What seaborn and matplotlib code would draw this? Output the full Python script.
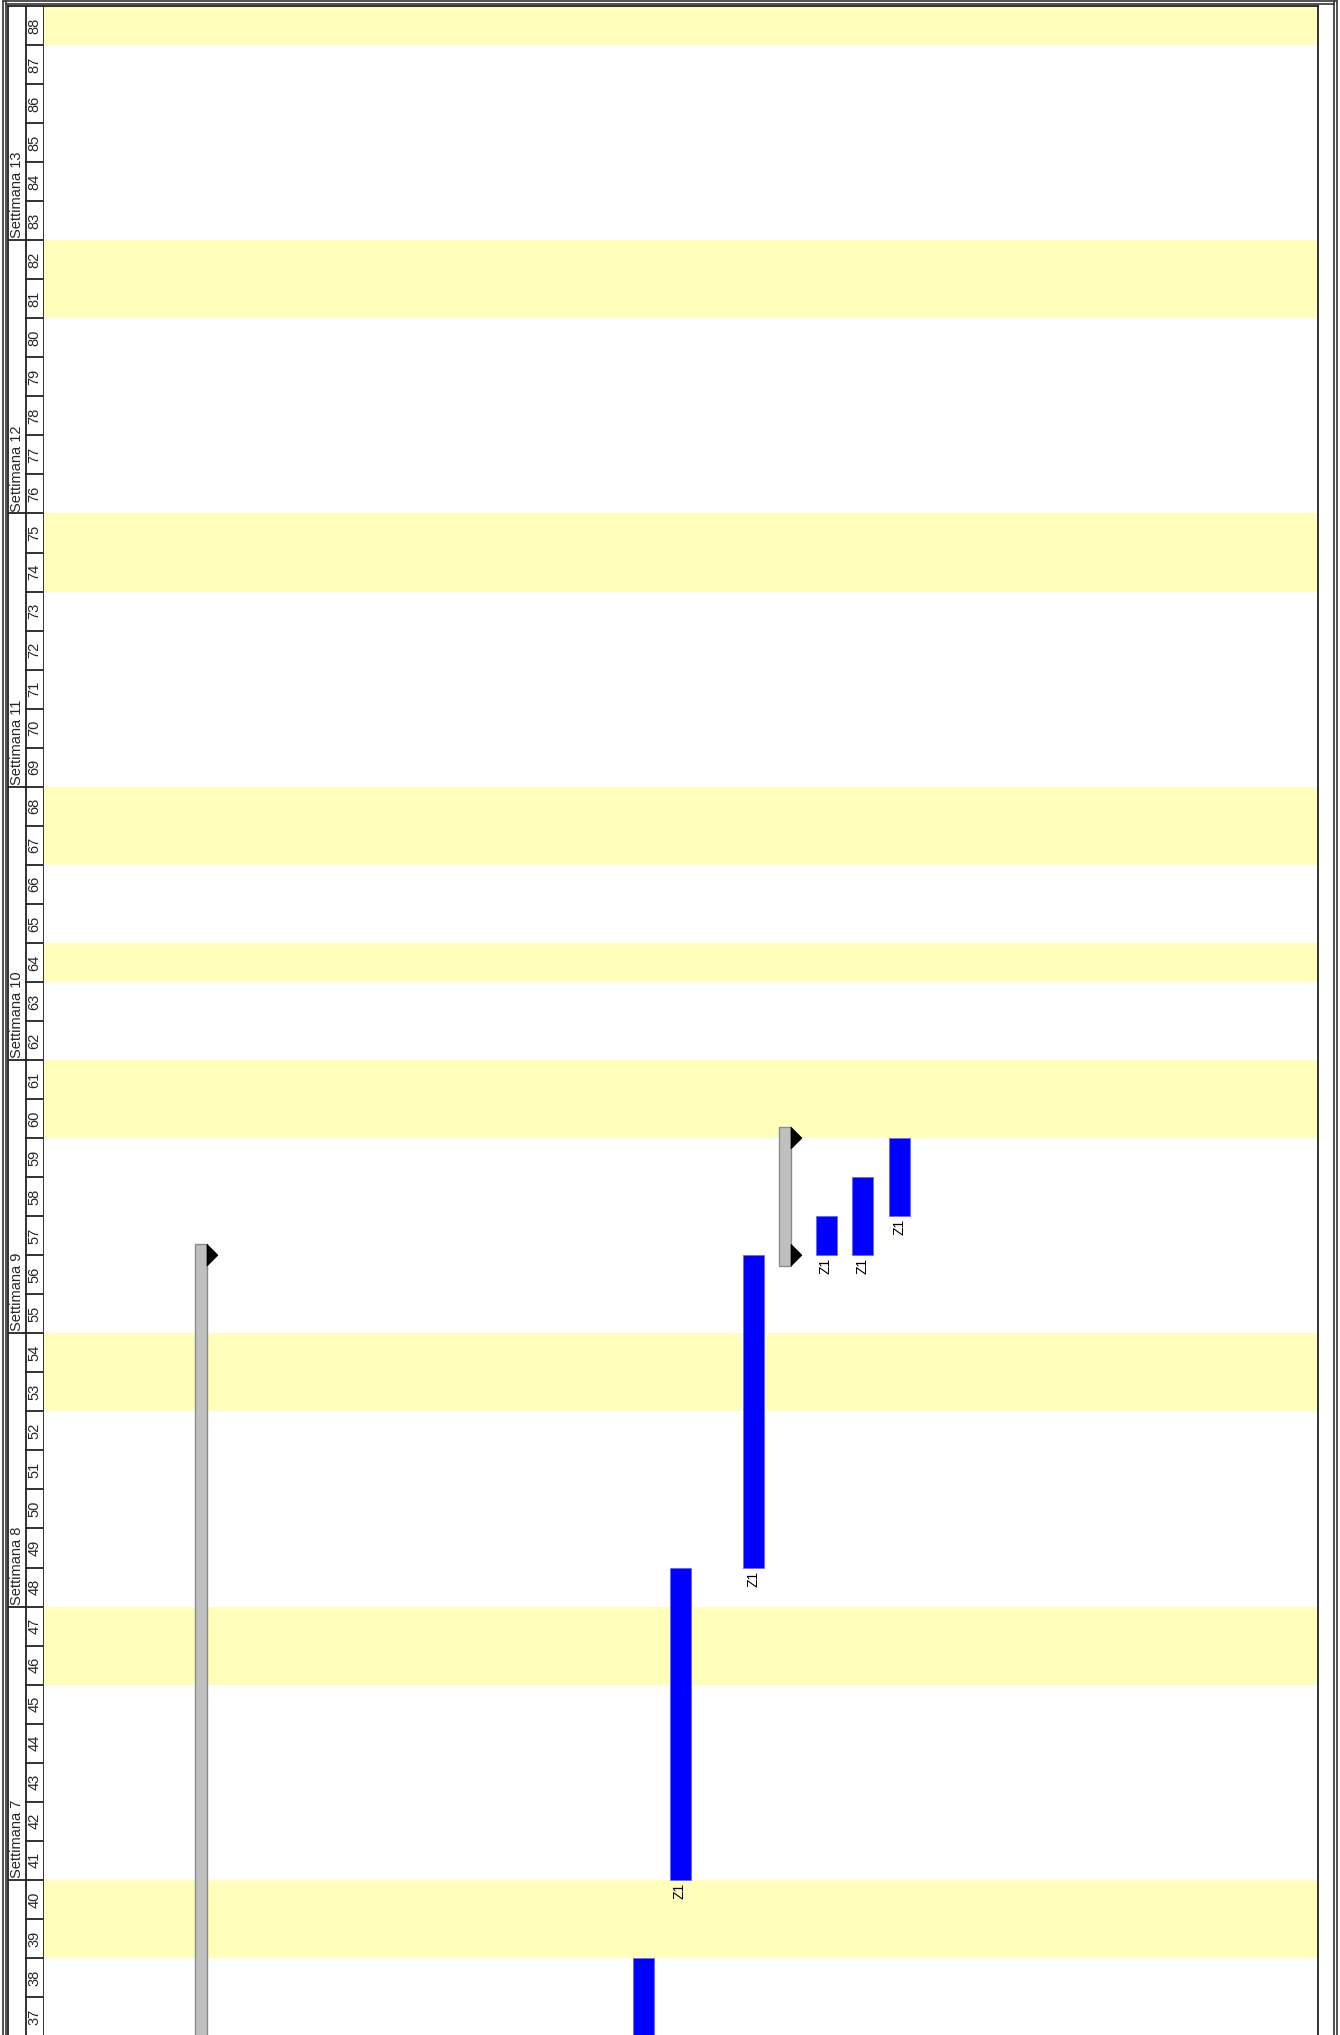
import numpy as np
import pandas as pd
import seaborn as sns
import matplotlib.pyplot as plt
from matplotlib.patches import Polygon, Rectangle
from matplotlib.lines import Line2D

# ---- data -------------------------------------------------------------
days = list(range(37, 89))
holidays = [39, 40, 46, 47, 53, 54, 60, 61, 64, 67, 68, 74, 75, 81, 82, 88]
week_numbers = [7, 8, 9, 10, 11, 12, 13]
week_starts = [41, 48, 55, 62, 69, 76, 83]

task_rows = [0, 12, 13, 15, 16, 17, 18, 19]
task_kinds = ["summary", "task", "task", "task", "summary", "task", "task", "task"]
task_starts = [30, 33, 41, 49, 57, 57, 57, 58]
task_ends = [57, 39, 49, 57, 60, 58, 59, 60]
task_labels = ["", "", "Z1", "Z1", "", "Z1", "Z1", "Z1"]

tasks = pd.DataFrame({"row": task_rows, "kind": task_kinds, "start": task_starts,
                      "end": task_ends, "label": task_labels})

# ---- style ------------------------------------------------------------
sns.set_theme(style="white")
plt.rcParams["font.family"] = ["Liberation Sans", "DejaVu Sans"]

W, H = 1340, 2035
fig = plt.figure(figsize=(W / 100, H / 100), dpi=100)
fig.patch.set_facecolor("white")


def fx(px):
    return px / W


def fy(py):
    return 1 - py / H


y_top, y_bot = 6, 2036
t0, t1 = 37, 89

ax = fig.add_axes([fx(43), fy(y_bot), fx(1318) - fx(43), fy(y_top) - fy(y_bot)])
hx = fig.add_axes([fx(8), fy(y_bot), fx(43) - fx(8), fy(y_top) - fy(y_bot)])

row_w = 36.5
ax.set_xlim((43 - 195) / row_w, (1318 - 195) / row_w)
ax.set_ylim(t0, t1)

# weekend / holiday bands
for d in holidays:
    ax.axhspan(d, d + 1, color="#ffffbb", lw=0, zorder=0)

blue_w = 21 / row_w
gray_w = 12 / row_w
tri_w = 11 / row_w
cap = 0.28

for _, r in tasks.iterrows():
    x = r["row"]
    if r["kind"] == "task":
        ax.bar(x, r["end"] - r["start"], bottom=r["start"], width=blue_w, align="edge",
               color="#0000ff", edgecolor="#6666ff", linewidth=0.6, zorder=3)
        if r["label"]:
            ax.text(x + blue_w / 2, r["start"] - 0.08, r["label"], rotation=90,
                    ha="center", va="top", fontsize=10, color="black", clip_on=True, zorder=4)
    else:
        ax.add_patch(Rectangle((x, r["start"] - cap), gray_w, r["end"] - r["start"] + 2 * cap,
                               facecolor="#c0c0c0", edgecolor="#8c8c8c", lw=1, zorder=3))
        for t in (r["start"], r["end"]):
            ax.add_patch(Polygon([[x + gray_w, t - cap], [x + gray_w + tri_w, t],
                                  [x + gray_w, t + cap]], closed=True,
                                 facecolor="black", edgecolor="black", lw=0.5, zorder=4))

ax.set_xticks([])
ax.set_yticks([])
for side in ["left", "top", "right"]:
    ax.spines[side].set_visible(True)
    ax.spines[side].set_color("#222222")
    ax.spines[side].set_linewidth(1.3)
ax.spines["bottom"].set_visible(False)

# ---- header (time scale) ---------------------------------------------
hx.set_xlim(8, 43)
hx.set_ylim(t0, t1)
hx.set_xticks([])
hx.set_yticks([])
for side in ["left", "top"]:
    hx.spines[side].set_color("#222222")
    hx.spines[side].set_linewidth(1.3)
hx.spines["right"].set_visible(False)
hx.spines["bottom"].set_visible(False)

hx.axvline(26, color="#222222", lw=1.3)
for d in days:
    hx.plot([26, 43], [d, d], color="#222222", lw=1.3)
    hx.text(34.6, d + 0.5, str(d), rotation=90, ha="center", va="center", fontsize=10.5)
for wn, ws in zip(week_numbers, week_starts):
    hx.plot([8, 26], [ws, ws], color="#222222", lw=1.3)
    hx.text(17.3, ws + 0.05, f"Settimana {wn}", rotation=90, ha="center", va="bottom",
            fontsize=10.5)

# ---- outer double frame ------------------------------------------------
frame_kw = dict(color="#333333", lw=1.2, transform=fig.transFigure)
for px in (2.5, 5.5):
    fig.add_artist(Line2D([fx(px), fx(px)], [0, fy(1.5)], **frame_kw))
for px in (1333.5, 1336.5):
    fig.add_artist(Line2D([fx(px), fx(px)], [0, fy(1.5)], **frame_kw))
fig.add_artist(Line2D([fx(2.5), fx(1336.5)], [fy(1.5), fy(1.5)], **frame_kw))
fig.add_artist(Line2D([fx(5.5), fx(1333.5)], [fy(4.5), fy(4.5)], **frame_kw))

fig.savefig("out.png", dpi=100, facecolor="white")
